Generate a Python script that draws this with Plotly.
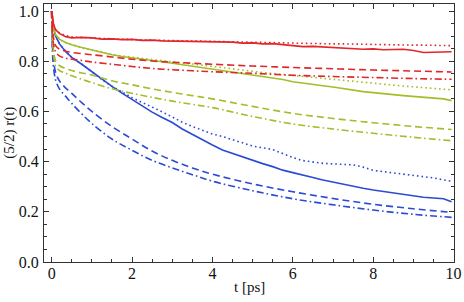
import plotly.graph_objects as go

# simulation time grid (solid / dotted curves)
t_sim = [0, 0.02, 0.05, 0.1, 0.2, 0.35, 0.5, 0.75, 1.0, 1.25, 1.5, 1.75, 2.0, 2.25, 2.5,
         2.75, 3.0, 3.25, 3.5, 3.75, 4.0, 4.25, 4.5, 4.75, 5.0, 5.25, 5.5, 5.75, 6.0,
         6.25, 6.5, 6.75, 7.0, 7.25, 7.5, 7.75, 8.0, 8.25, 8.5, 8.75, 9.0, 9.25, 9.5,
         9.75, 9.95]

red_solid = [1.0, 0.97, 0.945, 0.925, 0.91, 0.898, 0.893, 0.895, 0.893, 0.888, 0.889, 0.886,
             0.887, 0.883, 0.884, 0.881, 0.880, 0.879, 0.880, 0.877, 0.878, 0.875, 0.876,
             0.872, 0.873, 0.869, 0.870, 0.866, 0.862, 0.858, 0.859, 0.857, 0.857, 0.854,
             0.852, 0.848, 0.849, 0.846, 0.847, 0.848, 0.843, 0.835, 0.836, 0.836, 0.838]
red_dotted = [1.0, 0.97, 0.945, 0.925, 0.912, 0.902, 0.897, 0.894, 0.892, 0.890, 0.888, 0.888,
              0.886, 0.885, 0.884, 0.883, 0.882, 0.881, 0.880, 0.879, 0.878, 0.877, 0.876,
              0.875, 0.874, 0.874, 0.873, 0.872, 0.872, 0.871, 0.870, 0.870, 0.869, 0.869,
              0.868, 0.867, 0.866, 0.866, 0.865, 0.865, 0.864, 0.864, 0.863, 0.863, 0.862]
green_solid = [1.0, 0.96, 0.93, 0.905, 0.887, 0.875, 0.866, 0.855, 0.845, 0.835, 0.826, 0.819,
               0.813, 0.808, 0.803, 0.798, 0.792, 0.786, 0.781, 0.775, 0.768, 0.763, 0.757,
               0.752, 0.745, 0.739, 0.733, 0.727, 0.718, 0.712, 0.708, 0.702, 0.697, 0.690,
               0.684, 0.679, 0.675, 0.670, 0.667, 0.663, 0.660, 0.657, 0.652, 0.650, 0.643]
green_dotted = [1.0, 0.96, 0.93, 0.904, 0.886, 0.874, 0.865, 0.853, 0.844, 0.835, 0.827, 0.821,
                0.816, 0.811, 0.806, 0.801, 0.797, 0.793, 0.789, 0.784, 0.779, 0.775, 0.770,
                0.764, 0.758, 0.755, 0.751, 0.747, 0.744, 0.740, 0.736, 0.731, 0.726, 0.722,
                0.718, 0.714, 0.711, 0.708, 0.704, 0.701, 0.698, 0.695, 0.692, 0.689, 0.686]
blue_solid = [1.0, 0.96, 0.93, 0.90, 0.868, 0.838, 0.815, 0.788, 0.758, 0.730, 0.700, 0.673,
              0.647, 0.621, 0.597, 0.576, 0.556, 0.530, 0.508, 0.487, 0.466, 0.446, 0.432,
              0.418, 0.405, 0.392, 0.380, 0.366, 0.356, 0.348, 0.337, 0.327, 0.318, 0.309,
              0.300, 0.294, 0.287, 0.281, 0.275, 0.268, 0.263, 0.258, 0.255, 0.252, 0.240]
blue_dotted = [1.0, 0.96, 0.93, 0.90, 0.868, 0.840, 0.815, 0.788, 0.757, 0.727, 0.700, 0.676,
               0.655, 0.636, 0.618, 0.598, 0.578, 0.557, 0.540, 0.524, 0.510, 0.500, 0.488,
               0.474, 0.462, 0.455, 0.448, 0.432, 0.416, 0.404, 0.398, 0.393, 0.391, 0.389,
               0.387, 0.378, 0.365, 0.360, 0.355, 0.350, 0.345, 0.340, 0.335, 0.327, 0.322]

# model time grid (dashed / dash-dot curves)
t_fit = [0, 0.02, 0.05, 0.1, 0.2, 0.35, 0.5, 0.75, 1.0, 1.5, 2.0, 2.5, 3.0, 3.5, 4.0,
         5.0, 6.0, 7.0, 8.0, 9.0, 9.95]

red_dashed = [1.0, 0.93, 0.89, 0.862, 0.847, 0.840, 0.835, 0.830, 0.826, 0.817, 0.808,
              0.801, 0.796, 0.792, 0.788, 0.781, 0.775, 0.770, 0.765, 0.761, 0.757]
red_dashdot = [1.0, 0.91, 0.865, 0.838, 0.820, 0.812, 0.808, 0.803, 0.797, 0.788, 0.779,
               0.771, 0.766, 0.762, 0.758, 0.752, 0.744, 0.739, 0.735, 0.731, 0.728]
green_dashed = [1.0, 0.90, 0.84, 0.80, 0.782, 0.771, 0.763, 0.753, 0.745, 0.722, 0.706,
                0.690, 0.676, 0.663, 0.650, 0.620, 0.592, 0.572, 0.555, 0.540, 0.528]
green_dashdot = [1.0, 0.88, 0.82, 0.78, 0.762, 0.752, 0.742, 0.728, 0.715, 0.690, 0.672,
                 0.656, 0.641, 0.628, 0.615, 0.580, 0.550, 0.530, 0.513, 0.497, 0.483]
blue_dashed = [1.0, 0.86, 0.80, 0.755, 0.72, 0.693, 0.672, 0.635, 0.600, 0.540, 0.490,
               0.442, 0.405, 0.375, 0.350, 0.311, 0.280, 0.253, 0.230, 0.212, 0.198]
blue_dashdot = [1.0, 0.84, 0.77, 0.725, 0.688, 0.66, 0.632, 0.590, 0.552, 0.490, 0.445,
                0.405, 0.375, 0.348, 0.322, 0.284, 0.252, 0.228, 0.207, 0.190, 0.178]

x_ticks = [0, 2, 4, 6, 8, 10]
y_ticks = [0.0, 0.2, 0.4, 0.6, 0.8, 1.0]

RED = "#E2262B"
GREEN = "#A2BE2A"
BLUE = "#2B4AD6"

DOT = "1.6px,3px"
DASH = "7px,4px"
DASHDOT = "7px,3px,1.6px,3px"

series = [
    (t_fit, blue_dashdot, BLUE, DASHDOT, "spline"),
    (t_fit, blue_dashed, BLUE, DASH, "spline"),
    (t_sim, blue_dotted, BLUE, DOT, "linear"),
    (t_sim, blue_solid, BLUE, "solid", "linear"),
    (t_fit, green_dashdot, GREEN, DASHDOT, "spline"),
    (t_fit, green_dashed, GREEN, DASH, "spline"),
    (t_sim, green_dotted, GREEN, DOT, "linear"),
    (t_sim, green_solid, GREEN, "solid", "linear"),
    (t_fit, red_dashdot, RED, DASHDOT, "spline"),
    (t_fit, red_dashed, RED, DASH, "spline"),
    (t_sim, red_dotted, RED, DOT, "linear"),
    (t_sim, red_solid, RED, "solid", "linear"),
]

FONT = "Liberation Serif, Times New Roman, DejaVu Serif, serif"

fig = go.Figure()
for xs, ys, col, dash, shape in series:
    fig.add_trace(go.Scatter(x=xs, y=ys, mode="lines",
                             line=dict(color=col, width=1.6, dash=dash, shape=shape),
                             showlegend=False, hoverinfo="skip"))

axis_common = dict(showline=True, mirror="ticks", linecolor="#333333", linewidth=1,
                   ticks="inside", ticklen=5, tickcolor="#333333", tickwidth=1,
                   showgrid=False, zeroline=False, automargin=False,
                   tickfont=dict(family=FONT, size=16, color="#111111"))

fig.update_xaxes(range=[-0.19, 10.01], tickvals=x_ticks, ticktext=[str(v) for v in x_ticks],
                 minor=dict(ticks="inside", ticklen=3, dtick=0.5, tick0=0, tickcolor="#333333"),
                 ticklabelstandoff=-3, **axis_common)
fig.update_yaxes(range=[0, 1.028], tickvals=y_ticks, ticktext=["%.1f" % v for v in y_ticks],
                 minor=dict(ticks="inside", ticklen=3, dtick=0.05, tick0=0, tickcolor="#333333"),
                 ticklabelstandoff=1, **axis_common)

# axis titles placed as paper-anchored text
fig.add_annotation(text="t [ps]", xref="paper", yref="paper", x=0.5, y=-0.097,
                   xanchor="center", yanchor="middle", showarrow=False,
                   font=dict(family=FONT, size=15, color="#111111"))
fig.add_annotation(text="(5/2) r(t)", xref="paper", yref="paper", x=-0.086, y=0.5,
                   xanchor="center", yanchor="middle", textangle=-90, showarrow=False,
                   font=dict(family=FONT, size=15, color="#111111"))

fig.update_layout(width=464, height=302,
                  margin=dict(l=44, r=10, t=4, b=40, autoexpand=False),
                  paper_bgcolor="white", plot_bgcolor="white",
                  font=dict(family=FONT, size=15, color="#111111"))

fig.write_html("out.html", config={"displayModeBar": False},
               post_script="document.body.style.margin='0';document.body.style.padding='0';")
